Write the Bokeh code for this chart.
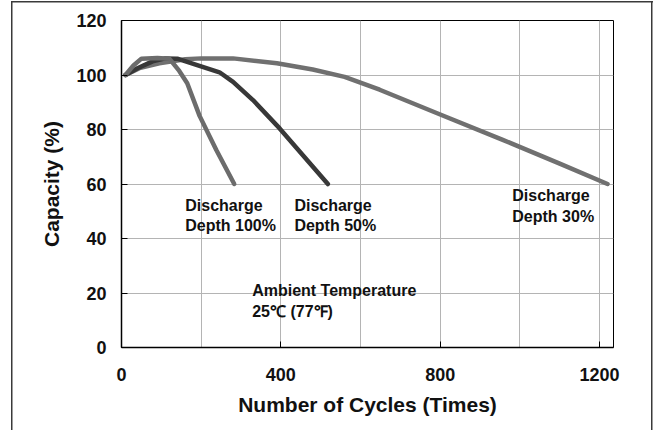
from bokeh.plotting import figure
from bokeh.models import Range1d, FixedTicker
from bokeh.core.properties import value
from bokeh.embed import file_html
from bokeh.resources import INLINE

# ---- data ----
x_ticks = [0, 400, 800, 1200]
x_grid = [200, 400, 600, 800, 1000, 1200]
y_ticks = [0, 20, 40, 60, 80, 100, 120]

d30_x = [10, 45, 95, 160, 200, 280, 390, 480, 560, 648, 800, 957, 1100, 1220]
d30_y = [100, 102.5, 104.3, 105.8, 106.1, 106.1, 104.3, 102.0, 99.3, 94.6, 85.5, 76.2, 67.5, 60]

d50_x = [10, 40, 78, 110, 140, 188, 246, 280, 330, 397, 518]
d50_y = [100, 102.5, 105, 106.1, 106, 103.7, 101, 97.5, 90.8, 80.4, 60]

d100_x = [10, 30, 50, 90, 120, 145, 165, 196, 238, 283]
d100_y = [100, 103.5, 106, 106.2, 106, 101.5, 97, 85, 72.5, 60]

ann_text = ["Discharge", "Depth 100%", "Discharge", "Depth 50%", "Discharge", "Depth 30%",
            "Ambient Temperature", "25\u2103 (77\u2109)"]
ann_x = [160, 160, 434, 434, 981, 981, 328, 328]
ann_y = [52.0, 44.6, 52.0, 44.6, 55.7, 48.0, 21.0, 13.1]

FONT = "Liberation Sans"

p = figure(width=660, height=430, output_backend="svg", toolbar_location=None,
           x_range=Range1d(0, 1235), y_range=Range1d(0, 120),
           min_border_left=121, min_border_right=47, min_border_top=20, min_border_bottom=83)
p.background_fill_color = "white"
p.border_fill_color = None
p.outline_line_color = "black"
p.outline_line_width = 1
p.styles = {
    "background-color": "white",
    "background-image": "linear-gradient(#3a3a3a,#3a3a3a), linear-gradient(#3a3a3a,#3a3a3a), linear-gradient(#3a3a3a,#3a3a3a)",
    "background-size": "1.5px 100%, 1.5px 100%, 642px 1.5px",
    "background-position": "11px 1px, 651px 1px, 11px 1px",
    "background-repeat": "no-repeat",
}

# grid
p.xgrid.ticker = FixedTicker(ticks=x_grid)
p.ygrid.ticker = FixedTicker(ticks=y_ticks)
for g in (p.xgrid, p.ygrid):
    g.grid_line_color = "#b4b4b4"
    g.grid_line_width = 1

# axes
p.xaxis.ticker = FixedTicker(ticks=x_ticks)
p.yaxis.ticker = FixedTicker(ticks=y_ticks)
for ax in (p.xaxis, p.yaxis):
    ax.axis_line_color = "black"
    ax.axis_line_width = 1.5
    ax.major_tick_in = 6
    ax.major_tick_out = 0
    ax.major_tick_line_color = "black"
    ax.minor_tick_line_color = None
    ax.major_label_text_font = FONT
    ax.major_label_text_font_style = "bold"
    ax.major_label_text_font_size = "18px"
    ax.major_label_text_color = "#111111"
    ax.axis_label_text_font = FONT
    ax.axis_label_text_font_style = "bold"
    ax.axis_label_text_font_size = "21px"
    ax.axis_label_text_color = "#111111"
p.xaxis.axis_label = "Number of Cycles (Times)"
p.yaxis.axis_label = "Capacity (%)"
p.xaxis.major_label_standoff = 20
p.yaxis.major_label_standoff = 15
p.xaxis.axis_label_standoff = 9
p.yaxis.axis_label_standoff = 10

# curves
p.line(d30_x, d30_y, line_color="#707070", line_width=4.5, line_cap="round", line_join="round")
p.line(d50_x, d50_y, line_color="#383838", line_width=4.5, line_cap="round", line_join="round")
p.line(d100_x, d100_y, line_color="#6c6c6c", line_width=4.5, line_cap="round", line_join="round")

# annotations
p.text(x=ann_x, y=ann_y, text=ann_text, text_font=value(FONT), text_font_style="bold",
       text_font_size="16px", text_color="#111111", text_align="left", text_baseline="alphabetic")

open("out.html", "w").write(file_html(p, INLINE))
